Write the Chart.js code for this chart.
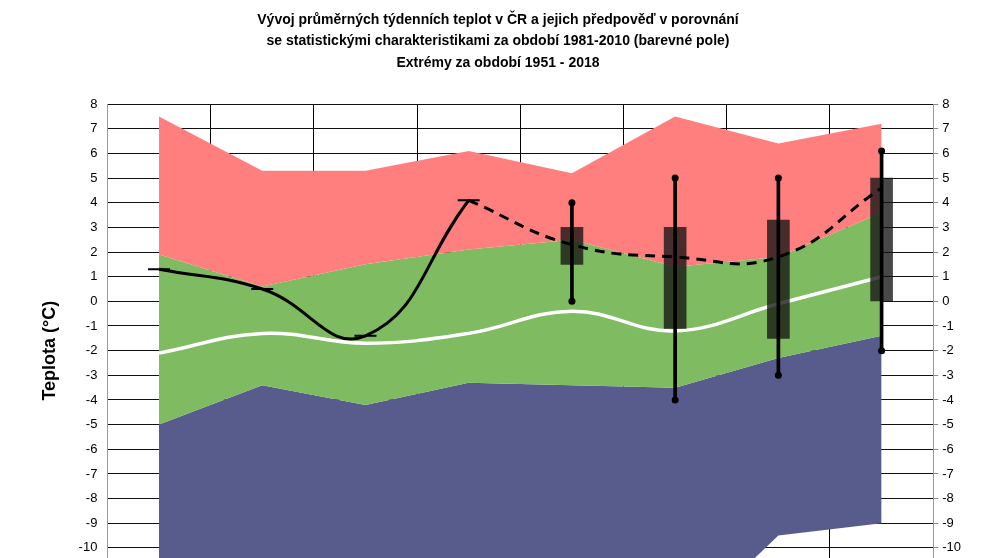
<!DOCTYPE html>
<html>
<head>
<meta charset="utf-8">
<script src="https://cdn.jsdelivr.net/npm/chart.js@4"></script>
<style>
  html, body { margin: 0; padding: 0; background: #fff; overflow: hidden; }
  #wrap { width: 991px; height: 615px; }
</style>
</head>
<body>
<div id="wrap"><canvas id="tempChart"></canvas></div>
<script>
const weeks = ['1', '2', '3', '4', '5', '6', '7', '8'];

// statistické pole 1981-2010 a extrémy 1951-2018
const maxExtreme = [7.5, 5.3, 5.3, 6.1, 5.2, 7.5, 6.4, 7.2];
const upperNormal = [1.9, 0.6, 1.5, 2.1, 2.5, 1.4, 1.8, 3.6];
const lowerNormal = [-5.0, -3.4, -4.2, -3.3, -3.4, -3.5, -2.3, -1.4];
const minExtreme = [-14, -13, -15, -12.5, -13, -13.5, -9.5, -9.0];
const meanTemp = [-2.1, -1.3, -1.7, -1.3, -0.4, -1.2, -0.1, 1.0];

// měření a předpověď
const observed = [1.3, 0.5, -1.4, 4.1, null, null, null, null];
const forecast = [null, null, null, 4.1, 2.3, 1.8, 1.8, 4.6];
const boxLow = [null, null, null, null, 1.5, -1.1, -1.5, 0.0];
const boxHigh = [null, null, null, null, 3.0, 3.0, 3.3, 5.0];
const whiskerLow = [null, null, null, null, 0.0, -4.0, -3.0, -2.0];
const whiskerHigh = [null, null, null, null, 4.0, 5.0, 5.0, 6.1];

const yTicks = [8, 7, 6, 5, 4, 3, 2, 1, 0, -1, -2, -3, -4, -5, -6, -7, -8, -9, -10, -11, -12];

const pairs = (lo, hi) => lo.map((v, i) => v === null ? null : [v, hi[i]]);

const area = (data, color, fill) => ({
    type: 'line', data, fill, backgroundColor: color, borderWidth: 0,
    pointRadius: 0, tension: 0, order: 10
});

new Chart(document.getElementById('tempChart'), {
    data: {
        labels: weeks,
        datasets: [
            area(maxExtreme, '#ff7f7f', '+1'),
            area(upperNormal, '#7fbb60', '+1'),
            area(lowerNormal, '#585c8c', '+1'),
            area(minExtreme, 'transparent', false),
            {
                type: 'line', data: meanTemp, borderColor: '#ffffff', borderWidth: 3.5,
                pointRadius: 0, tension: 0.4, fill: false, order: 6
            },
            {
                type: 'bar', data: pairs(boxLow, boxHigh), backgroundColor: 'rgba(20,20,20,0.78)',
                barThickness: 22, grouped: false, order: 4
            },
            {
                type: 'bar', data: pairs(whiskerLow, whiskerHigh), backgroundColor: '#000',
                barThickness: 3, grouped: false, order: 3
            },
            {
                type: 'line', data: whiskerHigh, showLine: false, pointRadius: 3.5,
                pointBackgroundColor: '#000', pointBorderWidth: 0, order: 2
            },
            {
                type: 'line', data: whiskerLow, showLine: false, pointRadius: 3.5,
                pointBackgroundColor: '#000', pointBorderWidth: 0, order: 2
            },
            {
                type: 'line', data: observed, borderColor: '#000', borderWidth: 3,
                tension: 0.45, fill: false, pointStyle: 'line', pointRadius: 11,
                pointBorderColor: '#000', pointBorderWidth: 2, order: 1
            },
            {
                type: 'line', data: forecast, borderColor: '#000', borderWidth: 3,
                borderDash: [10, 7], tension: 0.45, fill: false, pointRadius: 0, order: 1
            }
        ]
    },
    options: {
        responsive: true,
        maintainAspectRatio: false,
        animation: false,
        layout: { padding: { left: 31, right: 26, top: 0, bottom: 0 } },
        plugins: {
            legend: { display: false },
            tooltip: { enabled: false },
            title: {
                display: true,
                text: [
                    'Vývoj průměrných týdenních teplot v ČR a jejich předpověď v porovnání',
                    'se statistickými charakteristikami za období 1981-2010 (barevné pole)',
                    'Extrémy za období 1951 - 2018'
                ],
                color: '#000',
                font: { family: 'Liberation Sans', size: 14, weight: 'bold', lineHeight: 1.55 },
                padding: { top: 9, bottom: 30 }
            }
        },
        scales: {
            x: {
                offset: true,
                z: 1,
                grid: { offset: true, color: '#000', lineWidth: 1, drawTicks: false },
                border: { color: '#999' },
                ticks: { display: false }
            },
            y: {
                min: -12, max: 8,
                z: 1,
                afterBuildTicks: axis => { axis.ticks = yTicks.map(value => ({ value })); },
                grid: { color: '#111', lineWidth: 1, drawTicks: false },
                border: { color: '#999' },
                ticks: { color: '#000', padding: 10, font: { family: 'Liberation Sans', size: 13 } },
                title: {
                    display: true, text: 'Teplota (°C)', color: '#000',
                    font: { family: 'Liberation Sans', size: 18, weight: 'bold' }, padding: 8
                }
            },
            y2: {
                position: 'right',
                min: -12, max: 8,
                afterBuildTicks: axis => { axis.ticks = yTicks.map(value => ({ value })); },
                grid: { drawOnChartArea: false, color: '#888', tickLength: 5 },
                border: { color: '#999' },
                ticks: { color: '#000', padding: 4, font: { family: 'Liberation Sans', size: 13 } }
            }
        }
    }
});
</script>
</body>
</html>
